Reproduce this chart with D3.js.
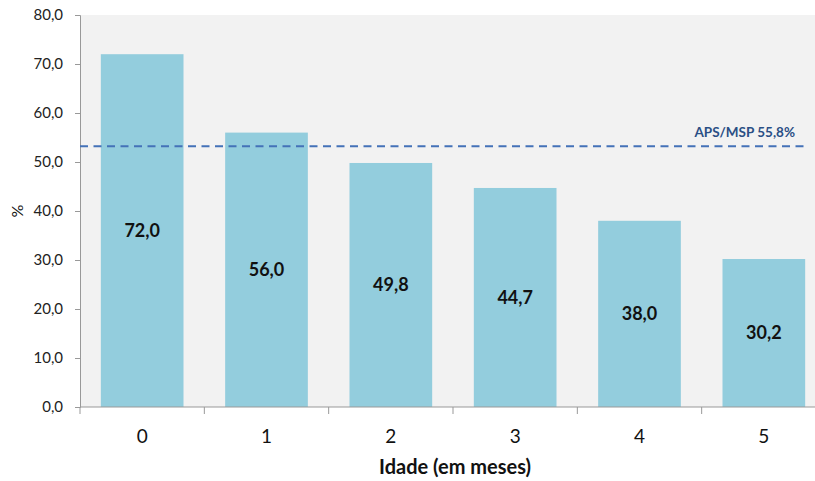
<!DOCTYPE html>
<html><head><meta charset="utf-8">
<script src="https://cdn.jsdelivr.net/npm/d3@7"></script>
<style>body{margin:0;background:#fff}svg{display:block;font-family:Lato,"Open Sans",sans-serif}</style>
</head><body><svg id="c" width="815" height="481"></svg>
<script>
const categories = ["0","1","2","3","4","5"];
const values = [72.0, 56.0, 49.8, 44.7, 38.0, 30.2];
const yTicks = [0,10,20,30,40,50,60,70,80];
const refValue = 53.2;
const refLabel = "APS/MSP 55,8%";
const xTitle = "Idade (em meses)";
const yTitle = "%";

const fmt = v => v.toFixed(1).replace(".", ",");
const svg = d3.select("#c");
const L = 80, R = 826, T = 15, B = 407;
const x = d3.scaleBand().domain(categories).range([L, R]).paddingInner(0.335).paddingOuter(0.1675);
const xb = d3.scaleBand().domain(categories).range([L, R]);
const y = d3.scaleLinear().domain([0, 80]).range([B, T]);

svg.append("rect").attr("x", L).attr("y", T).attr("width", R - L).attr("height", B - T).attr("fill", "#f2f2f2");

svg.selectAll("rect.bar").data(values).join("rect").attr("class","bar")
  .attr("x", (d,i) => x(categories[i])).attr("width", x.bandwidth())
  .attr("y", d => y(d)).attr("height", d => B - y(d)).attr("fill", "#93cddd");

svg.selectAll("text.val").data(values).join("text").attr("class","val")
  .attr("x", (d,i) => x(categories[i]) + x.bandwidth()/2)
  .attr("y", d => (y(d) + B)/2).attr("dy", "0.35em")
  .attr("text-anchor","middle").attr("font-size", 18).attr("font-weight", "bold").attr("fill","#111")
  .text(fmt);

// y axis
const ya = svg.append("g").attr("transform", `translate(${L},0)`)
  .call(d3.axisLeft(y).tickValues(yTicks).tickSize(5).tickPadding(12).tickFormat(fmt));
ya.select(".domain").attr("stroke", "#999");
ya.selectAll(".tick line").attr("stroke", "#999");
ya.selectAll("text").attr("font-size", 15).attr("fill", "#222").attr("font-family", "Lato,sans-serif");

// x axis
const xg = svg.append("g").attr("transform", `translate(0,${B})`);
xg.append("line").attr("x1", L).attr("x2", R).attr("stroke", "#999");
xg.selectAll("line.t").data(categories.concat(["end"])).join("line").attr("class","t")
  .attr("x1", (d,i) => L + i*xb.bandwidth()).attr("x2", (d,i) => L + i*xb.bandwidth())
  .attr("y1", 0).attr("y2", 7).attr("stroke", "#999");
xg.selectAll("text").data(categories).join("text")
  .attr("x", d => xb(d) + xb.bandwidth()/2).attr("y", 36)
  .attr("text-anchor","middle").attr("font-size", 19).attr("fill","#111").text(d => d);

// reference line
svg.append("line").attr("x1", L).attr("x2", 806).attr("y1", y(refValue)).attr("y2", y(refValue))
  .attr("stroke", "#4472b8").attr("stroke-width", 2).attr("stroke-dasharray", "8,5.5");
svg.append("text").attr("x", 795).attr("y", y(refValue) - 9).attr("text-anchor","end")
  .attr("font-size", 13.5).attr("font-weight","bold").attr("fill","#2a4f85").text(refLabel);

// titles
svg.append("text").attr("x", 455).attr("y", 474).attr("text-anchor","middle")
  .attr("font-size", 20).attr("font-weight","bold").attr("fill","#111").text(xTitle);
svg.append("text").attr("transform", `translate(23,${(T+B)/2}) rotate(-90)`).attr("text-anchor","middle")
  .attr("font-size", 16).attr("fill","#111").text(yTitle);
</script></body></html>
